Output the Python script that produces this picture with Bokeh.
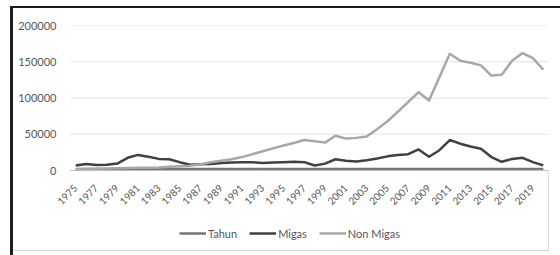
from math import pi
from bokeh.plotting import figure
from bokeh.models import (Range1d, FixedTicker, BasicTickFormatter, Legend, LegendItem,
                          ColumnDataSource)
from bokeh.embed import file_html
from bokeh.resources import INLINE

years = list(range(1975, 2021))
tahun = list(range(1975, 2021))
migas = [6900, 9000, 7500, 7800, 9500, 17500, 21500, 19000, 16000, 15500,
         11500, 8000, 8500, 9000, 10500, 11000, 11500, 11500, 10500, 11000,
         11500, 12000, 11500, 6900, 9500, 15500, 13500, 12500, 14000, 16500,
         19500, 21500, 22500, 29000, 19000, 28000, 42000, 37000, 33000, 30000,
         18500, 12000, 16000, 17500, 11500, 7000]
non_migas = [1800, 2000, 2400, 2800, 3200, 3500, 3800, 3800, 4200, 5300,
             5800, 6400, 8600, 11500, 13500, 15500, 18500, 22500, 26500, 30500,
             34500, 38000, 42000, 40500, 38500, 48000, 44000, 45000, 47000, 57000,
             68000, 81000, 94500, 108000, 96500, 128500, 161000, 151500, 148500, 145000,
             131000, 132000, 151500, 162000, 155000, 139000]
x_ticks = list(range(1975, 2021, 2))
y_ticks = [0, 50000, 100000, 150000, 200000]
series_names = ["Tahun", "Migas", "Non Migas"]
series_colors = ["#767676", "#404040", "#a8a8a8"]

src = ColumnDataSource(dict(x=years, tahun=tahun, migas=migas, non_migas=non_migas))

# layout: plot area 478 px wide for 46 categories, extended 24 px to the left so the
# first rotated year label is not clipped, and 80 px below zero for the legend
cat_left, cat_right = 1974.5, 2020.5
px_per_year = 478 / 46
x_start = cat_left - 24 / px_per_year
y_top = 200000
y_bottom = -y_top * 80 / 145

p = figure(frame_width=502, frame_height=225, output_backend="svg", toolbar_location=None,
           x_range=Range1d(x_start, cat_right), y_range=Range1d(y_bottom, y_top),
           min_border_left=46, min_border_right=12, min_border_top=25, min_border_bottom=5)
p.outline_line_color = None
p.background_fill_color = None
p.border_fill_color = None
# scanned frame edges: dark left/top edges, light bottom/right edges
p.styles = {
    "background-color": "white",
    "background-image": ("linear-gradient(#1c1c1c, #1c1c1c), linear-gradient(#1c1c1c, #1c1c1c), "
                         "linear-gradient(#d2d2d2, #d2d2d2), linear-gradient(#dcdcdc, #dcdcdc)"),
    "background-size": "3px 249px, 550px 2px, 537px 1px, 1px 80px",
    "background-position": "10px 6px, 10px 6px, 12px 250px, 548px 171px",
    "background-repeat": "no-repeat",
}

p.xgrid.grid_line_color = None
p.ygrid.grid_line_color = None
# horizontal gridlines over the category area only
p.segment(x0=[cat_left] * len(y_ticks), x1=[cat_right] * len(y_ticks), y0=y_ticks, y1=y_ticks,
          line_color="#e2e2e2", line_width=1)

p.xaxis.fixed_location = 0
p.xaxis.bounds = (cat_left, cat_right)
p.xaxis.ticker = FixedTicker(ticks=x_ticks)
p.xaxis.major_label_orientation = pi / 4
p.xaxis.major_tick_line_color = None
p.xaxis.minor_tick_line_color = None
p.xaxis.axis_line_color = "#bdbdbd"
p.xaxis.axis_line_width = 1
p.xaxis.major_label_standoff = 10
p.xaxis.major_label_text_font = "Lato"
p.xaxis.major_label_text_font_size = "10px"
p.xaxis.major_label_text_color = "#555555"

p.yaxis.ticker = FixedTicker(ticks=y_ticks)
p.yaxis.formatter = BasicTickFormatter(use_scientific=False)
p.yaxis.axis_line_color = None
p.yaxis.major_tick_line_color = None
p.yaxis.minor_tick_line_color = None
p.yaxis.major_label_standoff = -16
p.yaxis.major_label_text_font = "Lato"
p.yaxis.major_label_text_font_size = "11px"
p.yaxis.major_label_text_color = "#555555"

cols = ["tahun", "migas", "non_migas"]
items = []
for name, col, color in zip(series_names, cols, series_colors):
    r = p.line("x", col, source=src, line_color=color, line_width=2.5, line_join="round")
    items.append(LegendItem(label=name, renderers=[r]))

legend = Legend(items=items, orientation="horizontal", location=(133, 10),
                glyph_width=27, glyph_height=14, label_height=14, label_standoff=2,
                spacing=12, padding=0, margin=0,
                label_text_font="Lato", label_text_font_size="11px",
                label_text_color="#555555", border_line_color=None,
                background_fill_alpha=0)
p.add_layout(legend, "center")

open("out.html", "w").write(file_html(p, INLINE))
